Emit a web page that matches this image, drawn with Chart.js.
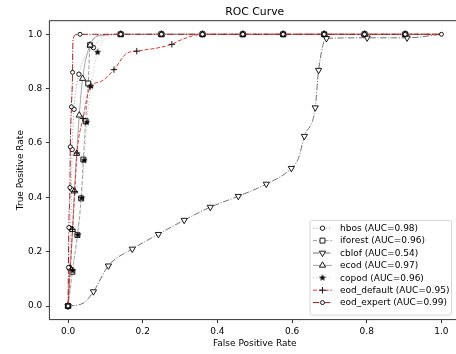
<!DOCTYPE html>
<html><head><meta charset="utf-8">
<style>html,body{margin:0;padding:0;overflow:hidden;background:#fff;width:456px;height:354px}canvas{display:block}</style>
<script src="https://cdn.jsdelivr.net/npm/chart.js@4/dist/chart.umd.min.js"></script>
</head><body>
<canvas id="c" width="456" height="354" style="width:456px;height:354px"></canvas>
<script>
// ---- data ----
const chartTitle = 'ROC Curve';
const xAxisTitle = 'False Positive Rate';
const yAxisTitle = 'True Positive Rate';
const seriesNames = ['hbos', 'iforest', 'cblof', 'ecod', 'copod', 'eod_default', 'eod_expert'];
const aucValues = [0.98, 0.96, 0.54, 0.97, 0.96, 0.95, 0.99];
const xTicks = [0, 0.2, 0.4, 0.6, 0.8, 1.0];
const yTicks = [0, 0.2, 0.4, 0.6, 0.8, 1.0];

const hbosFpr = [0, 0.004, 0.007, 0.009, 0.011, 0.016, 0.029, 0.068, 0.100, 0.141, 0.250, 0.360, 0.468, 0.576, 0.686, 0.794, 0.903, 1.0];
const hbosTpr = [0, 0.140, 0.285, 0.430, 0.576, 0.724, 0.853, 0.951, 0.995, 1, 1, 1, 1, 1, 1, 1, 1, 1];

const iforestFpr = [0, 0.0115, 0.025, 0.035, 0.041, 0.047, 0.054, 0.059, 0.090, 0.141, 0.250, 0.360, 0.468, 0.576, 0.686, 0.794, 0.903, 1.0];
const iforestTpr = [0, 0.126, 0.261, 0.396, 0.539, 0.680, 0.819, 0.960, 0.997, 1, 1, 1, 1, 1, 1, 1, 1, 1];

const cblofFpr = [0, 0.040, 0.068, 0.108, 0.172, 0.242, 0.311, 0.381, 0.456, 0.531, 0.598, 0.617, 0.633, 0.662, 0.671, 0.692, 0.801, 0.908, 1.0];
const cblofTpr = [0, 0.010, 0.053, 0.148, 0.210, 0.264, 0.316, 0.364, 0.404, 0.449, 0.507, 0.544, 0.625, 0.730, 0.868, 0.985, 0.987, 0.987, 1.0];

const ecodFpr = [0, 0.006, 0.012, 0.017, 0.023, 0.030, 0.039, 0.059, 0.090, 0.141, 0.250, 0.360, 0.468, 0.576, 0.686, 0.794, 0.903, 1.0];
const ecodTpr = [0, 0.140, 0.281, 0.423, 0.561, 0.702, 0.837, 0.960, 0.996, 1, 1, 1, 1, 1, 1, 1, 1, 1];

const copodFpr = [0, 0.012, 0.026, 0.036, 0.043, 0.050, 0.061, 0.079, 0.110, 0.141, 0.250, 0.360, 0.468, 0.576, 0.686, 0.794, 0.903, 1.0];
const copodTpr = [0, 0.130, 0.262, 0.397, 0.536, 0.676, 0.809, 0.934, 0.993, 1, 1, 1, 1, 1, 1, 1, 1, 1];

const eodDefaultFpr = [0, 0.006, 0.012, 0.018, 0.024, 0.040, 0.059, 0.086, 0.123, 0.157, 0.184, 0.278, 0.300, 0.360, 0.468, 0.576, 0.686, 0.794, 0.903, 1.0];
const eodDefaultTpr = [0, 0.141, 0.282, 0.422, 0.563, 0.690, 0.806, 0.825, 0.870, 0.930, 0.938, 0.963, 0.978, 1, 1, 1, 1, 1, 1, 1];

const eodExpertFpr = [0, 0.001, 0.002, 0.005, 0.006, 0.009, 0.012, 0.013, 0.020, 0.032, 0.141, 0.250, 0.360, 0.468, 0.576, 0.686, 0.794, 0.903, 1.0];
const eodExpertTpr = [0, 0.142, 0.289, 0.436, 0.586, 0.733, 0.860, 0.975, 0.998, 1, 1, 1, 1, 1, 1, 1, 1, 1, 1];

const fprList = [hbosFpr, iforestFpr, cblofFpr, ecodFpr, copodFpr, eodDefaultFpr, eodExpertFpr];
const tprList = [hbosTpr, iforestTpr, cblofTpr, ecodTpr, copodTpr, eodDefaultTpr, eodExpertTpr];

// ---- styles ----
function makeStar(size) {
  const c = document.createElement('canvas');
  c.width = c.height = size;
  const g = c.getContext('2d');
  const cx = size / 2, R = size / 2 - 0.2, r = R * 0.42;
  g.beginPath();
  for (let k = 0; k < 10; k++) {
    const ang = -Math.PI / 2 + k * Math.PI / 5;
    const rr = k % 2 ? r : R;
    g.lineTo(cx + rr * Math.cos(ang), cx + rr * Math.sin(ang));
  }
  g.closePath();
  g.fillStyle = '#000';
  g.fill();
  return c;
}
const star = makeStar(8);
const DOT = [1.2, 2.0], DASH = [4, 1.8], DASHDOT = [6.4, 1.6, 1.1, 1.6];
const styles = [
  {color: '#a8a8a8', dash: DOT, marker: 'circle', r: 2.2, rot: 0, fill: '#fff', plain: [8, 17]},
  {color: '#9a9a9a', dash: DASH, marker: 'rect', r: 3.5, rot: 0, fill: '#fff', plain: [8, 17]},
  {color: '#727272', dash: DASHDOT, marker: 'triangle', r: 3.6, rot: 180, fill: '#fff', plain: [1, 11, 18]},
  {color: '#a4a4a4', dash: [], marker: 'triangle', r: 3.6, rot: 0, fill: '#fff', plain: [8, 17]},
  {color: '#c4c4c4', dash: DOT, marker: star, r: 3.5, rot: 0, fill: '#000', plain: [8, 17]},
  {color: '#d43a3a', dash: DASH, marker: 'cross', r: 3.2, rot: 0, fill: '#000', plain: [7, 9, 12, 19]},
  {color: '#9e1b1b', dash: DASHDOT, marker: 'circle', r: 2.0, rot: 0, fill: '#fff', plain: [7, 8]}
];

const datasets = seriesNames.map((name, i) => {
  const st = styles[i];
  return {
    label: name + ' (AUC=' + aucValues[i].toFixed(2) + ')',
    data: fprList[i].map((x, j) => ({x: x, y: tprList[i][j]})),
    borderColor: st.color,
    borderWidth: 1,
    borderDash: st.dash,
    fill: false,
    cubicInterpolationMode: 'monotone',
    pointStyle: st.marker,
    pointRotation: st.rot,
    pointRadius: (ctx) => st.plain.includes(ctx.dataIndex) ? 0 : st.r,
    pointHoverRadius: 0,
    pointBackgroundColor: st.fill,
    pointBorderColor: '#000',
    pointBorderWidth: 0.9,
    order: seriesNames.length - i
  };
});

Chart.defaults.font.family = "'DejaVu Sans'";
Chart.defaults.color = '#000';

// left, top and bottom spines; the right spine lies just beyond the visible window
const framePlugin = {
  id: 'frame',
  afterDatasetsDraw(chart) {
    const {ctx, chartArea: a} = chart;
    ctx.save();
    ctx.strokeStyle = '#000';
    ctx.lineWidth = 0.8;
    ctx.setLineDash([]);
    ctx.beginPath();
    ctx.moveTo(a.right + 2, a.top);
    ctx.lineTo(a.left, a.top);
    ctx.lineTo(a.left, a.bottom);
    ctx.lineTo(a.right + 2, a.bottom);
    ctx.stroke();
    ctx.restore();
  }
};

// title and x-axis label, centred on the full axes box (which extends past the window edge)
const titlesPlugin = {
  id: 'centeredTitles',
  afterDraw(chart) {
    const a = chart.chartArea;
    const xs = chart.scales.x;
    const cx = (a.left + xs.getPixelForValue(1.05)) / 2;
    const ctx = chart.ctx;
    ctx.save();
    ctx.fillStyle = '#000';
    ctx.textAlign = 'center';
    ctx.textBaseline = 'middle';
    ctx.font = "10.8px 'DejaVu Sans'";
    ctx.fillText(chartTitle, cx, 11.9);
    ctx.font = "9px 'DejaVu Sans'";
    ctx.fillText(xAxisTitle, cx, 343.3);
    ctx.restore();
  }
};

function drawMarker(ctx, st, x, y) {
  ctx.save();
  ctx.setLineDash([]);
  ctx.fillStyle = st.fill;
  ctx.strokeStyle = '#000';
  ctx.lineWidth = 0.9;
  if (Chart.helpers && Chart.helpers.drawPoint) {
    Chart.helpers.drawPoint(ctx, {pointStyle: st.marker, rotation: st.rot, radius: st.r, borderWidth: 0.9}, x, y);
  } else if (typeof st.marker === 'object') {
    ctx.drawImage(st.marker, x - st.marker.width / 2, y - st.marker.height / 2);
  } else {
    ctx.beginPath();
    ctx.arc(x, y, st.r, 0, Math.PI * 2);
    ctx.fill(); ctx.stroke();
  }
  ctx.restore();
}

const legendPlugin = {
  id: 'innerLegend',
  afterDraw(chart) {
    const ctx = chart.ctx;
    const bx = 310, by = 220.5, bw = 141.5, bh = 94.5, rr = 2;
    ctx.save();
    ctx.beginPath();
    ctx.moveTo(bx + rr, by);
    ctx.lineTo(bx + bw - rr, by);
    ctx.arcTo(bx + bw, by, bx + bw, by + rr, rr);
    ctx.lineTo(bx + bw, by + bh - rr);
    ctx.arcTo(bx + bw, by + bh, bx + bw - rr, by + bh, rr);
    ctx.lineTo(bx + rr, by + bh);
    ctx.arcTo(bx, by + bh, bx, by + bh - rr, rr);
    ctx.lineTo(bx, by + rr);
    ctx.arcTo(bx, by, bx + rr, by, rr);
    ctx.closePath();
    ctx.fillStyle = 'rgba(255,255,255,0.8)';
    ctx.fill();
    ctx.strokeStyle = '#cccccc';
    ctx.lineWidth = 0.8;
    ctx.stroke();
    const y0 = 228.2, dy = 12.4;
    chart.data.datasets.forEach((ds, i) => {
      const st = styles[i];
      const y = y0 + i * dy;
      ctx.save();
      ctx.strokeStyle = ds.borderColor;
      ctx.lineWidth = ds.borderWidth;
      ctx.setLineDash(ds.borderDash);
      ctx.beginPath();
      ctx.moveTo(313, y);
      ctx.lineTo(332, y);
      ctx.stroke();
      ctx.restore();
      drawMarker(ctx, st, 322.5, y);
      ctx.fillStyle = '#000';
      ctx.font = "9px 'DejaVu Sans'";
      ctx.textBaseline = 'middle';
      ctx.textAlign = 'left';
      ctx.fillText(ds.label, 340, y + 0.5);
    });
    ctx.restore();
  }
};

new Chart(document.getElementById('c'), {
  type: 'line',
  data: {datasets: datasets},
  options: {
    responsive: false,
    animation: false,
    devicePixelRatio: 1,
    layout: {padding: {top: 20.7, left: 0, right: 0, bottom: 0}, autoPadding: false},
    plugins: {
      legend: {display: false},
      tooltip: {enabled: false},
      title: {display: false}
    },
    scales: {
      x: {
        type: 'linear', min: -0.05, max: 1.039,
        afterBuildTicks: (s) => { s.ticks = xTicks.map(v => ({value: v})); },
        afterFit: (s) => { s.height = 34.4; },
        ticks: {callback: (v) => Number(v).toFixed(1), color: '#000', font: {size: 9}, padding: 3.2, maxRotation: 0, autoSkip: false},
        grid: {drawOnChartArea: false, drawTicks: true, tickLength: 3.5, tickWidth: 0.8, tickColor: '#000'},
        border: {display: false},
        title: {display: false}
      },
      y: {
        type: 'linear', min: -0.05, max: 1.05,
        afterBuildTicks: (s) => { s.ticks = yTicks.map(v => ({value: v})); },
        afterFit: (s) => { s.width = 49.4; },
        ticks: {callback: (v) => Number(v).toFixed(1), color: '#000', font: {size: 9}, padding: 3.6, autoSkip: false},
        grid: {drawOnChartArea: false, drawTicks: true, tickLength: 3.5, tickWidth: 0.8, tickColor: '#000'},
        border: {display: false},
        title: {display: true, text: yAxisTitle, color: '#000', font: {size: 9}, padding: {top: 15, bottom: 0}}
      }
    }
  },
  plugins: [framePlugin, legendPlugin, titlesPlugin]
});
</script>
</body></html>
